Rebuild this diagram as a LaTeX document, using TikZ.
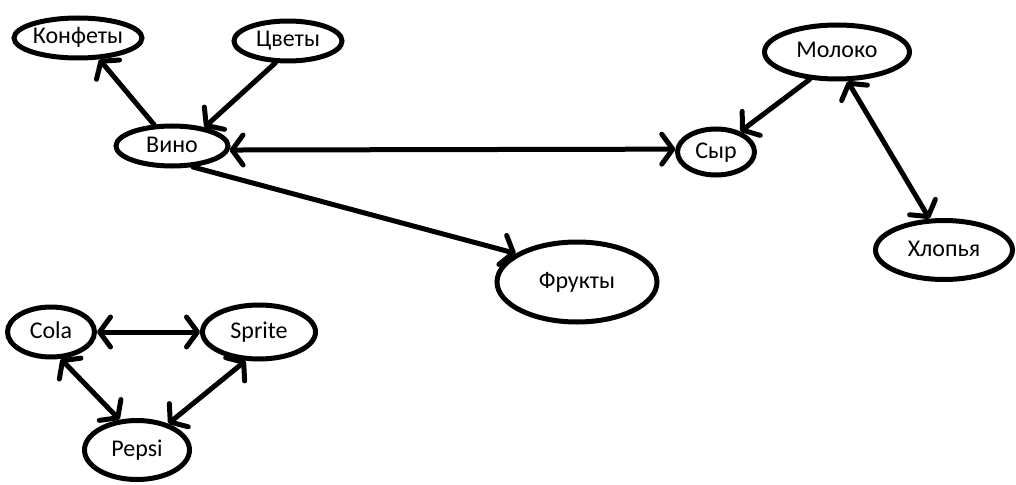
\documentclass[tikz,border=0pt]{standalone}
\usepackage{fontspec}
\setmainfont{Carlito}
\usetikzlibrary{shapes.geometric,arrows.meta}
\begin{document}
\begin{tikzpicture}[x=1pt,y=-1pt,
  el/.style={ellipse,draw,line width=5pt,inner sep=0pt,text height=16pt,text depth=4pt,font=\fontsize{24}{28}\selectfont},
  con/.style={line width=5pt,line cap=round},
  tip/.tip={Straight Barb[length=11pt,width=30pt,line cap=round,round]},
  ->/.style={con,-tip},
  <->/.style={con,tip-tip}]
\useasboundingbox (0,0) rectangle (1016,484);
\node[el,minimum width=128pt,minimum height=40pt] (konf) at (78,38) {Конфеты};
\node[el,minimum width=108pt,minimum height=40pt] (cvet) at (288,41) {Цветы};
\node[el,minimum width=112pt,minimum height=40pt] (vino) at (172,146) {Вино};
\node[el,minimum width=77pt,minimum height=46pt] (syr) at (716,152) {Сыр};
\node[el,minimum width=145pt,minimum height=54pt] (mol) at (837,52) {Молоко};
\node[el,minimum width=137pt,minimum height=59pt] (hlop) at (944,250) {Хлопья};
\node[el,minimum width=160pt,minimum height=80pt] (fru) at (577,282) {Фрукты};
\node[el,minimum width=87pt,minimum height=50pt] (cola) at (51,332) {Cola};
\node[el,minimum width=113pt,minimum height=54pt] (spr) at (259,332) {Sprite};
\node[el,minimum width=105pt,minimum height=59pt] (pep) at (137,450) {Pepsi};
\draw[->] (vino.130) -- (konf.-45);
\draw[->] (cvet.-120) -- (vino.30);
\draw[<->] (vino.-4) -- (syr.176);
\draw[->] (vino.-45) -- (fru.155);
\draw[->] (mol.-135) -- (syr.40);
\draw[<->] (mol.-70) -- (hlop.115);
\draw[<->] (cola.0) -- (spr.180);
\draw[<->] (cola.-70) -- (pep.120);
\draw[<->] (spr.-115) -- (pep.40);
\end{tikzpicture}
\end{document}
